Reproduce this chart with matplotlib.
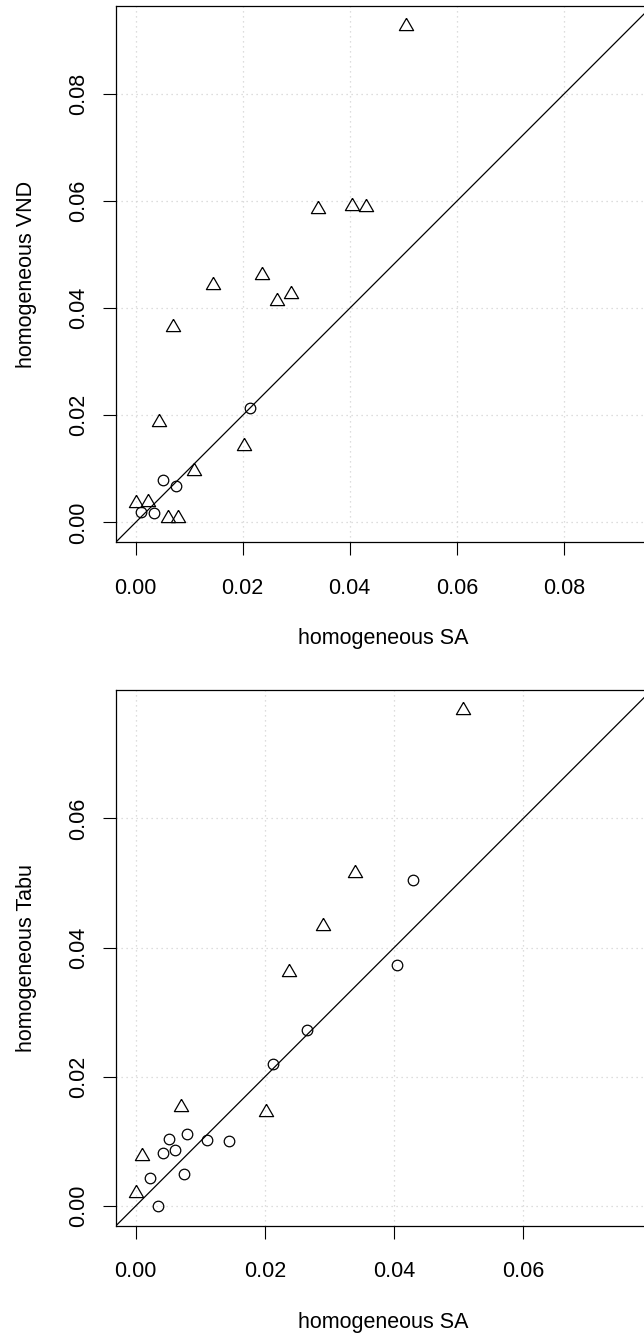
import numpy as np
import matplotlib
matplotlib.use("Agg")
import matplotlib.pyplot as plt

plt.rcParams['font.family'] = ['Liberation Sans', 'DejaVu Sans']

# cost on each instance for the three heuristics
sa = [0.0506, 0.0340, 0.0405, 0.0430, 0.0237, 0.0145, 0.0265, 0.0290, 0.0070,
      0.0043, 0.0202, 0.0110, 0.0000, 0.0023, 0.0061, 0.0080, 0.0213, 0.0051,
      0.0075, 0.0010, 0.0035]
vnd = [0.0927, 0.0585, 0.0592, 0.0589, 0.0462, 0.0443, 0.0413, 0.0427, 0.0365,
       0.0187, 0.0142, 0.0097, 0.0037, 0.0038, 0.0008, 0.0009, 0.0214, 0.0079,
       0.0069, 0.0019, 0.0017]
tabu = [0.0768, 0.0516, 0.0373, 0.0504, 0.0362, 0.0101, 0.0273, 0.0433, 0.0154,
        0.0082, 0.0145, 0.0102, 0.0021, 0.0044, 0.0087, 0.0112, 0.0220, 0.0104,
        0.0050, 0.0077, 0.0000]
# True -> triangle, False -> circle
vnd_tri = [True] * 16 + [False] * 5
tabu_tri = [True, True, False, False, True, False, False, True, True, False,
            True, False, True, False, False, False, False, False, False, True,
            False]

ticks = [0.00, 0.02, 0.04, 0.06, 0.08]
tick_labels = ['0.00', '0.02', '0.04', '0.06', '0.08']

# R-style triangle (pch = 2), centred on its centroid
tri = [(0, 1), (-0.866, -0.5), (0.866, -0.5), (0, 1)]

W, H = 644, 1337
fig = plt.figure(figsize=(W / 100, H / 100), dpi=100)


def panel(bottom_px, x, y, is_tri, ylabel):
    x = np.array(x)
    y = np.array(y)
    is_tri = np.array(is_tri)
    lo = min(x.min(), y.min())
    hi = max(x.max(), y.max())
    pad = 0.04 * (hi - lo)
    lim = (lo - pad, hi + pad)

    size = 536
    ax = fig.add_axes([115.7 / W, (H - bottom_px) / H, size / W, size / H])
    ax.set_xlim(lim)
    ax.set_ylim(lim)

    # only ticks inside the plotting range, as R does
    tk = [t for t in ticks if lim[0] <= t <= lim[1]]
    tl = [l for t, l in zip(ticks, tick_labels) if lim[0] <= t <= lim[1]]

    for t in tk:
        ax.axvline(t, color='lightgray', lw=0.9, ls=(0, (1, 3)), zorder=0)
        ax.axhline(t, color='lightgray', lw=0.9, ls=(0, (1, 3)), zorder=0)

    ax.plot(lim, lim, color='black', lw=0.9, zorder=1)

    ax.plot(x[~is_tri], y[~is_tri], ls='none', marker='o', ms=7.6,
            mfc='none', mec='black', mew=0.9, zorder=2)
    ax.plot(x[is_tri], y[is_tri], ls='none', marker=tri, ms=11.8,
            mfc='none', mec='black', mew=0.9, zorder=2)

    ax.set_xticks(tk, tl)
    ax.set_yticks(tk, tl)
    ax.tick_params(direction='out', length=9.4, width=0.8, labelsize=15.5)
    ax.tick_params(axis='x', pad=16)
    ax.tick_params(axis='y', pad=10)
    plt.setp(ax.get_yticklabels(), rotation=90, va='center')
    for s in ax.spines.values():
        s.set_linewidth(0.9)

    ax.set_xlabel('homogeneous SA', fontsize=15.5, labelpad=21.5)
    ax.set_ylabel(ylabel, fontsize=15.5, labelpad=22)
    return ax


panel(542.3, sa, vnd, vnd_tri, 'homogeneous VND')
panel(1226, sa, tabu, tabu_tri, 'homogeneous Tabu')

fig.savefig('out.png', dpi=100)
